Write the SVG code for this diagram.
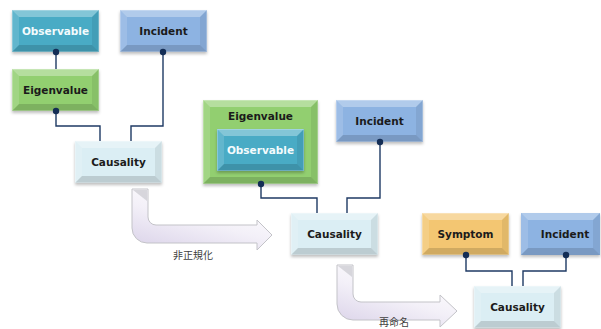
<svg xmlns="http://www.w3.org/2000/svg" xmlns:xlink="http://www.w3.org/1999/xlink" width="601" height="329" viewBox="0 0 601 329">
  <style>
    .lbl { font-family: "DejaVu Sans", Verdana, sans-serif; font-weight: bold; font-size: 10.5px; text-anchor: middle; dominant-baseline: central; fill: #1b1b1b; }
    .lbl.light { fill: #f4fbfd; }
    .note { font-family: "Noto Sans CJK JP", "Noto Sans", sans-serif; font-size: 10px; text-anchor: middle; dominant-baseline: central; fill: #404040; }
    .wire { fill: none; stroke: #1f3a64; stroke-width: 1.4; }
    .dot { fill: #132d55; }
    .teal { fill: #49abc5; }
    .blue { fill: #8db3e2; }
    .green { fill: #92cf6f; }
    .pale { fill: #dbeef4; }
    .gold { fill: #f3c672; }
    .frame { fill: none; stroke: #ffffff; stroke-opacity: 0.3; stroke-width: 0.8; }
    .bend { fill: url(#bendFill); stroke: #c3c3c8; stroke-width: 1; }
  </style>
  <defs>
    <filter id="shadow" x="-10%" y="-10%" width="130%" height="140%">
      <feDropShadow dx="0" dy="2" stdDeviation="1.5" flood-color="#000" flood-opacity="0.25"/>
    </filter>
    <linearGradient id="bendFill" x1="0" y1="1" x2="0.6" y2="0">
      <stop offset="0" stop-color="#d9d1e8"/>
      <stop offset="0.55" stop-color="#f3f0f8"/>
      <stop offset="1" stop-color="#ffffff"/>
    </linearGradient>
    <!-- bevel overlay for a standard 87x42 box -->
    <g id="bevel">
      <polygon points="0,0 87,0 80,7 7,7" fill="#fff" fill-opacity="0.32"/>
      <polygon points="0,0 7,7 7,35 0,42" fill="#fff" fill-opacity="0.14"/>
      <polygon points="87,0 87,42 80,35 80,7" fill="#000" fill-opacity="0.07"/>
      <polygon points="0,42 7,35 80,35 87,42" fill="#000" fill-opacity="0.14"/>
      <rect x="0.4" y="0.4" width="86.2" height="41.2" class="frame"/>
    </g>
  </defs>

  <!-- bent arrows between the three stages -->
  <g id="arrows">
    <path class="bend" d="M132,189 V228 A15,15 0 0 0 147,243 H257 V250 L272,235 L257,220 V225 H156 A8,8 0 0 1 148,217 V189 Z"/>
    <polygon points="133,190 147,190 147,201" fill="#c9c9cf" fill-opacity="0.7"/>
    <path class="bend" d="M337,265 V304 A16,16 0 0 0 353,320 H440 V327 L457,311 L440,295 V302 H361 A8,8 0 0 1 353,294 V265 Z"/>
    <polygon points="338,266 352,266 352,277" fill="#c9c9cf" fill-opacity="0.7"/>
    <text class="note" x="193" y="254">非正規化</text>
    <text class="note" x="394" y="321">再命名</text>
  </g>

  <!-- stage 1 -->
  <g id="observable1">
    <rect class="teal" x="12" y="10" width="87" height="42" filter="url(#shadow)"/>
    <use xlink:href="#bevel" x="12" y="10"/>
    <text class="lbl light" x="55.5" y="31">Observable</text>
  </g>
  <g id="incident1">
    <rect class="blue" x="120" y="10" width="87" height="42" filter="url(#shadow)"/>
    <use xlink:href="#bevel" x="120" y="10"/>
    <text class="lbl" x="163.5" y="31">Incident</text>
  </g>
  <g id="eigenvalue1">
    <rect class="green" x="12" y="69" width="87" height="42" filter="url(#shadow)"/>
    <use xlink:href="#bevel" x="12" y="69"/>
    <text class="lbl" x="55.5" y="90">Eigenvalue</text>
  </g>
  <g id="causality1">
    <rect class="pale" x="75" y="141" width="87" height="42" filter="url(#shadow)"/>
    <use xlink:href="#bevel" x="75" y="141"/>
    <text class="lbl" x="118.5" y="162">Causality</text>
  </g>

  <!-- stage 2 -->
  <g id="eigenvalue2">
    <rect class="green" x="203" y="100" width="115" height="84" filter="url(#shadow)"/>
    <polygon points="203,100 318,100 311,107 210,107" fill="#fff" fill-opacity="0.32"/>
    <polygon points="203,100 210,107 210,177 203,184" fill="#fff" fill-opacity="0.14"/>
    <polygon points="318,100 318,184 311,177 311,107" fill="#000" fill-opacity="0.07"/>
    <polygon points="203,184 210,177 311,177 318,184" fill="#000" fill-opacity="0.14"/>
    <rect x="203.4" y="100.4" width="114.2" height="83.2" class="frame"/>
    <text class="lbl" x="260.5" y="116">Eigenvalue</text>
  </g>
  <g id="observable2">
    <rect class="teal" x="217" y="129" width="87" height="42" filter="url(#shadow)"/>
    <use xlink:href="#bevel" x="217" y="129"/>
    <text class="lbl light" x="260.5" y="150">Observable</text>
  </g>
  <g id="incident2">
    <rect class="blue" x="336" y="100" width="87" height="42" filter="url(#shadow)"/>
    <use xlink:href="#bevel" x="336" y="100"/>
    <text class="lbl" x="379.5" y="121">Incident</text>
  </g>
  <g id="causality2">
    <rect class="pale" x="291" y="213" width="87" height="42" filter="url(#shadow)"/>
    <use xlink:href="#bevel" x="291" y="213"/>
    <text class="lbl" x="334.5" y="234">Causality</text>
  </g>

  <!-- stage 3 -->
  <g id="symptom">
    <rect class="gold" x="422" y="213" width="87" height="42" filter="url(#shadow)"/>
    <use xlink:href="#bevel" x="422" y="213"/>
    <text class="lbl" x="465.5" y="234">Symptom</text>
  </g>
  <g id="incident3">
    <rect class="blue" x="521" y="213" width="79" height="42" filter="url(#shadow)"/>
    <polygon points="521,213 600,213 593,220 528,220" fill="#fff" fill-opacity="0.32"/>
    <polygon points="521,213 528,220 528,248 521,255" fill="#fff" fill-opacity="0.14"/>
    <polygon points="600,213 600,255 593,248 593,220" fill="#000" fill-opacity="0.07"/>
    <polygon points="521,255 528,248 593,248 600,255" fill="#000" fill-opacity="0.14"/>
    <text class="lbl" x="565" y="234">Incident</text>
  </g>
  <g id="causality3">
    <rect class="pale" x="474" y="286" width="87" height="42" filter="url(#shadow)"/>
    <use xlink:href="#bevel" x="474" y="286"/>
    <text class="lbl" x="517.5" y="307">Causality</text>
  </g>

  <!-- connectors, drawn last so the end dots sit on top of the box edges -->
  <g id="connectors">
    <path class="wire" d="M56,52 V69"/>
    <path class="wire" d="M56,111 V126 H100 V141"/>
    <path class="wire" d="M163,52 V126 H131 V141"/>
    <path class="wire" d="M261,184 V198 H317 V213"/>
    <path class="wire" d="M380,142 V198 H347 V213"/>
    <path class="wire" d="M466,255 V271 H512 V286"/>
    <path class="wire" d="M566,255 V271 H523 V286"/>
    <circle class="dot" cx="56" cy="52" r="3.2"/>
    <circle class="dot" cx="56" cy="111" r="3.2"/>
    <circle class="dot" cx="163" cy="52" r="3.2"/>
    <circle class="dot" cx="261" cy="184" r="3.2"/>
    <circle class="dot" cx="380" cy="142" r="3.2"/>
    <circle class="dot" cx="466" cy="255" r="3.2"/>
    <circle class="dot" cx="566" cy="255" r="3.2"/>
  </g>
</svg>
